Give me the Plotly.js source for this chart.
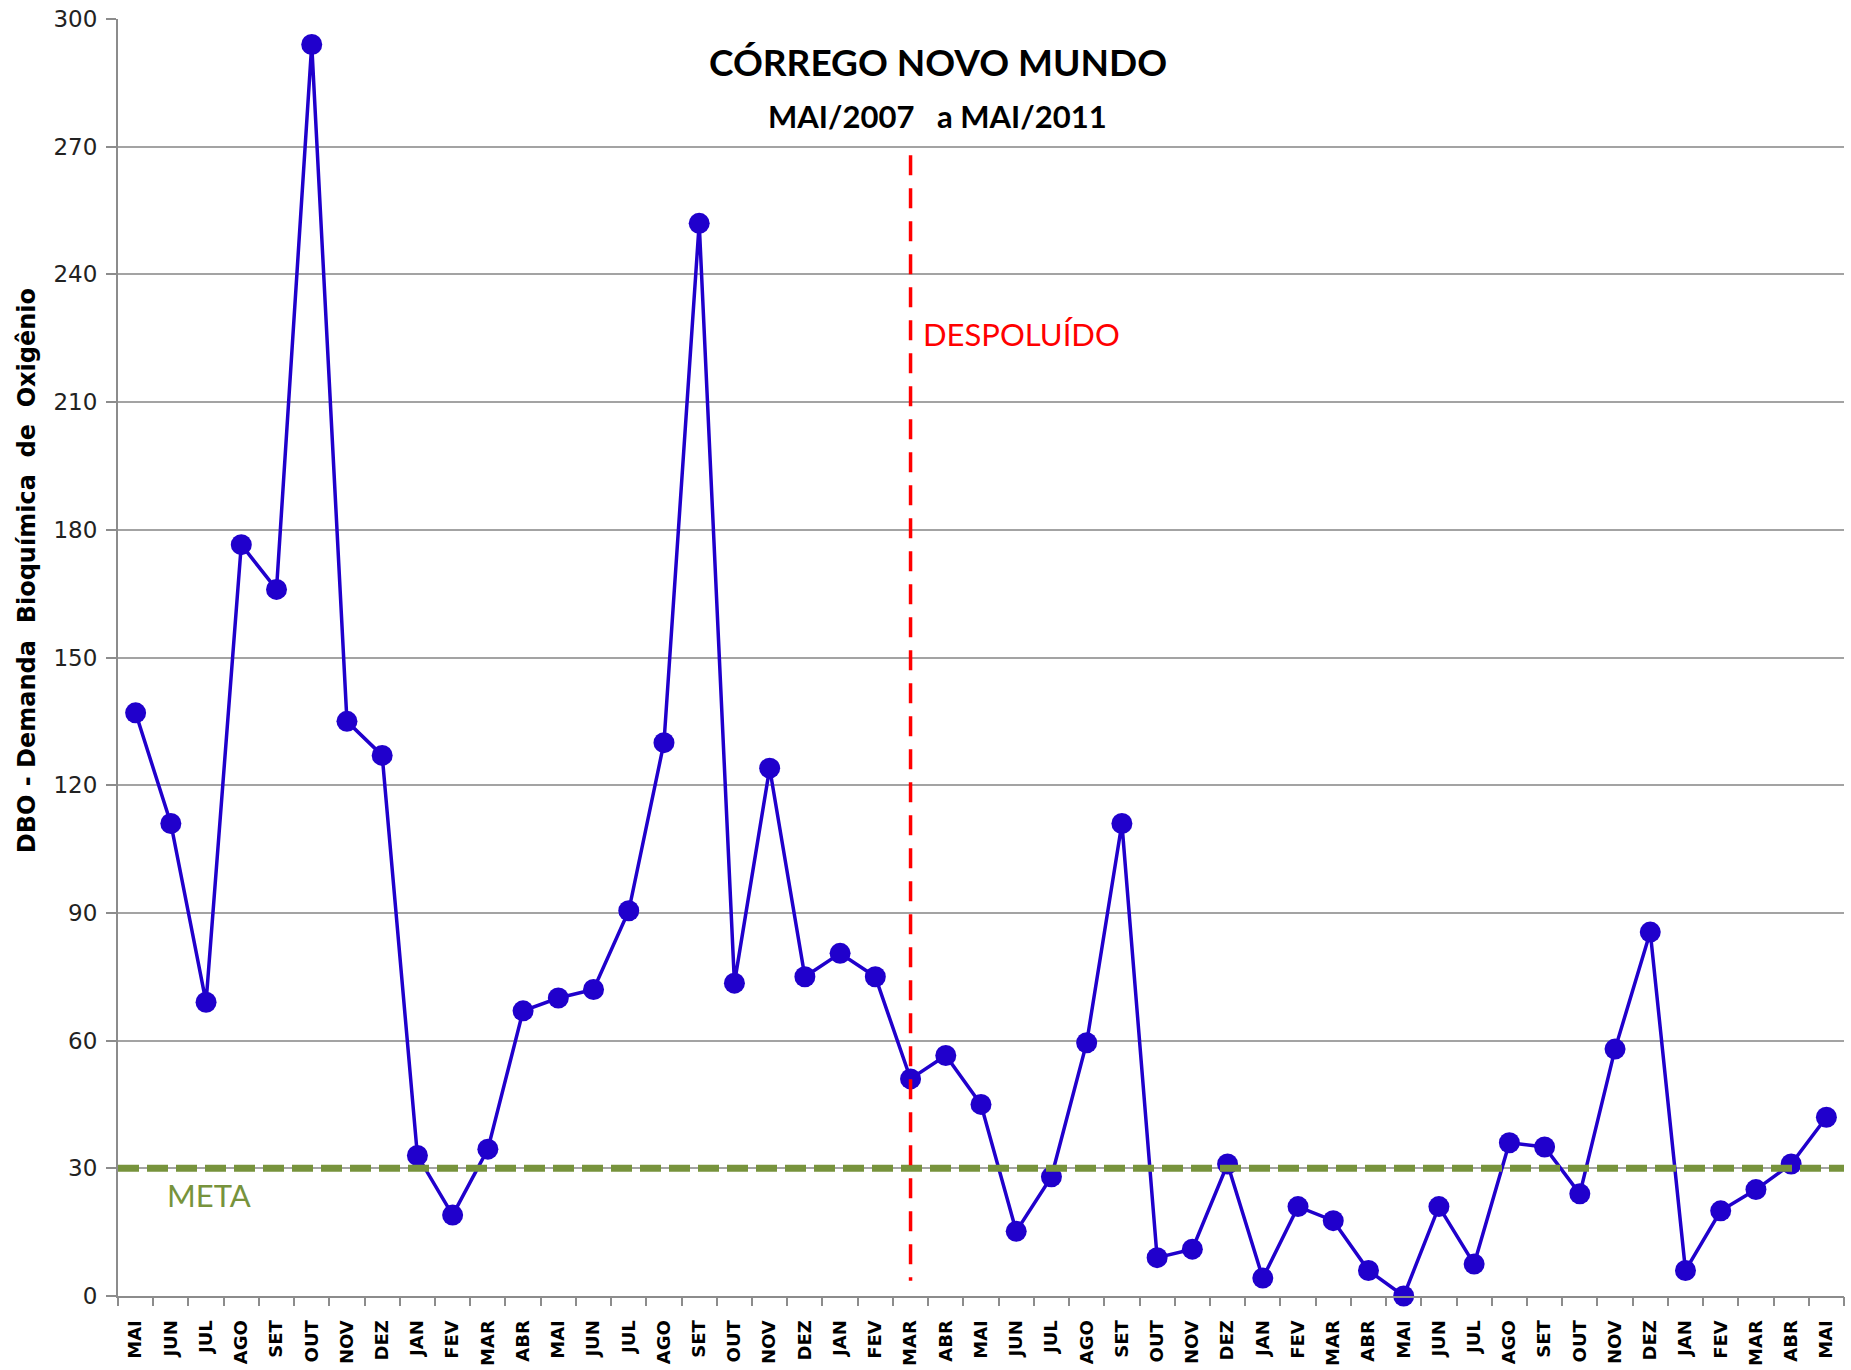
<!DOCTYPE html>
<html><head><meta charset="utf-8">
<script src="https://cdn.plot.ly/plotly-3.0.1.min.js"></script>
<style>html,body{margin:0;padding:0;background:#fff}</style>
</head><body><div id="chart" style="width:1851px;height:1370px"></div>
<script>
const months = ["MAI","JUN","JUL","AGO","SET","OUT","NOV","DEZ",
  "JAN","FEV","MAR","ABR","MAI","JUN","JUL","AGO","SET","OUT","NOV","DEZ",
  "JAN","FEV","MAR","ABR","MAI","JUN","JUL","AGO","SET","OUT","NOV","DEZ",
  "JAN","FEV","MAR","ABR","MAI","JUN","JUL","AGO","SET","OUT","NOV","DEZ",
  "JAN","FEV","MAR","ABR","MAI"];
const dbo = [137, 111, 69, 176.5, 166, 294, 135, 127,
  33, 19, 34.5, 67, 70, 72, 90.5, 130, 252, 73.5, 124, 75,
  80.5, 75, 51, 56.5, 45, 15.2, 28, 59.5, 111, 9, 11, 31,
  4.2, 21, 17.7, 6, 0, 21, 7.5, 36, 35, 24, 58, 85.5,
  6, 20, 25, 31, 42];
const yTicks = [0,30,60,90,120,150,180,210,240,270,300];
const metaValue = 30;
const despoluidoMonth = 22;   // MAR/2009
const despoluidoRange = [268, 3.6];

const title1 = "CÓRREGO NOVO MUNDO";
const title2 = "MAI/2007\u00A0\u00A0 a MAI/2011";
const yTitle = "DBO - Demanda\u00A0 Bioquímica\u00A0 de\u00A0 Oxigênio";

const idx = months.map((m, i) => i);
const bounds = months.map((m, i) => i - 0.5).concat([months.length - 0.5]);
const xr = [-0.5, months.length - 0.5];

const blue = "#2000CC";
const grid = "#a3a3a3";
const axisC = "#8c8c8c";

const traces = [
  {x: idx, y: dbo, type: "scatter", mode: "lines+markers",
   line: {color: blue, width: 3.5}, marker: {color: blue, size: 21},
   cliponaxis: false, hoverinfo: "y", showlegend: false},
  {x: [], y: [], xaxis: "x2", yaxis: "y", type: "scatter", showlegend: false, hoverinfo: "skip"}
];

const layout = {
  width: 1851, height: 1370,
  margin: {l: 118, r: 7, t: 19, b: 74},
  paper_bgcolor: "#fff", plot_bgcolor: "#fff",
  showlegend: false,
  xaxis: {
    range: xr, tickmode: "array", tickvals: idx, ticktext: months,
    tickangle: -90, ticks: "", showgrid: false, zeroline: false,
    showline: true, linecolor: axisC, linewidth: 2,
    tickfont: {family: "DejaVu Sans", size: 18, color: "#000", weight: "bold"},
    ticklabelstandoff: 15
  },
  xaxis2: {
    overlaying: "x", anchor: "y", side: "bottom", range: xr,
    tickmode: "array", tickvals: bounds, ticks: "outside", ticklen: 9,
    tickwidth: 2, tickcolor: axisC, showticklabels: false,
    showgrid: false, zeroline: false, showline: false
  },
  yaxis: {
    range: [0, 300], tickmode: "array", tickvals: yTicks,
    ticks: "outside", ticklen: 10, tickwidth: 2, tickcolor: axisC,
    showgrid: true, gridcolor: grid, gridwidth: 2, zeroline: false,
    showline: true, linecolor: axisC, linewidth: 2,
    tickfont: {family: "DejaVu Sans", size: 23, color: "#222"},
    ticklabelstandoff: 4
  },
  shapes: [
    {type: "line", xref: "x", yref: "y", x0: xr[0], x1: xr[1], y0: metaValue, y1: metaValue,
     line: {color: "#77933C", width: 7, dash: "21px,8px"}, layer: "above"},
    {type: "line", xref: "x", yref: "y", x0: despoluidoMonth, x1: despoluidoMonth,
     y0: despoluidoRange[0], y1: despoluidoRange[1],
     line: {color: "#FF0000", width: 3.5, dash: "20px,13px"}, layer: "above"}
  ],
  annotations: [
    {text: "<b>" + title1 + "</b>", xref: "paper", yref: "paper", x: 0.475, y: 0.967,
     xanchor: "center", yanchor: "middle", showarrow: false,
     font: {family: "Lato", size: 37, color: "#000"}},
    {text: "<b>" + title2 + "</b>", xref: "paper", yref: "paper", x: 0.475, y: 0.924,
     xanchor: "center", yanchor: "middle", showarrow: false,
     font: {family: "Lato", size: 31, color: "#000"}},
    {text: "<b>" + yTitle + "</b>", xref: "paper", yref: "paper", x: -0.053, y: 0.568,
     xanchor: "center", yanchor: "middle", textangle: -90, showarrow: false,
     font: {family: "DejaVu Sans", size: 24, color: "#000"}},
    {text: "DESPOLUÍDO", xref: "x", yref: "y", x: 22.3, y: 226,
     xanchor: "left", yanchor: "middle", showarrow: false,
     font: {family: "Lato", size: 31, color: "#FF0000"}},
    {text: "META", xref: "x", yref: "y", x: 0.83, y: 23.7,
     xanchor: "left", yanchor: "middle", showarrow: false,
     font: {family: "Lato", size: 31, color: "#77933C"}}
  ]
};

Plotly.newPlot("chart", traces, layout, {displayModeBar: false, staticPlot: true});
</script></body></html>
